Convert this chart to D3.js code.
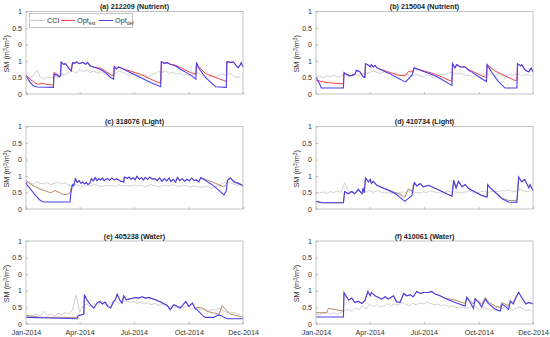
<!DOCTYPE html>
<html>
<head>
<meta charset="utf-8">
<script src="https://cdn.jsdelivr.net/npm/d3@7"></script>
<style>
  body { margin: 0; background: #fff; }
  text { font-family: "Liberation Sans", Arial, Helvetica, sans-serif; }
</style>
</head>
<body>
<div id="container"></div>
<script>
// tick labels
const yTicks = [0, 0.5, 1, 1.5, 2, 2.5];
const yTickLabels = ['0', '0.5', '1', '0', '0.5', '1'];
const xTicks = [0, 90, 181, 273, 364];
const xTickLabels = ['Jan-2014', 'Apr-2014', 'Jul-2014', 'Oct-2014', 'Dec-2014'];

const titles = ['(a) 212209 (Nutrient)', '(b) 215004 (Nutrient)', '(c) 318076 (Light)',
                '(d) 410734 (Light)', '(e) 405238 (Water)', '(f) 410061 (Water)'];

// CCI sampled every 6 days
const cciDays = [0,6,12,18,24,30,36,42,48,54,60,66,72,78,84,90,96,102,108,114,120,126,132,138,144,150,
  156,162,168,174,180,186,192,198,204,210,216,222,228,234,240,246,252,258,264,270,276,282,288,294,300,
  306,312,318,324,330,336,342,348,354,360];

const cciA = [0.5,0.45,0.55,0.72,0.5,0.45,0.52,0.48,0.55,0.5,0.6,0.58,0.65,0.7,0.62,0.75,0.68,0.72,0.65,0.7,
  0.62,0.68,0.6,0.65,0.58,0.62,0.7,0.65,0.6,0.55,0.62,0.58,0.55,0.6,0.52,0.58,0.62,0.68,0.65,0.7,0.62,0.66,
  0.6,0.64,0.58,0.6,0.55,0.6,0.65,0.58,0.55,0.5,0.56,0.52,0.58,0.6,0.56,0.62,0.55,0.5,0.52];
const cciB = [0.5,0.55,0.48,0.56,0.52,0.58,0.5,0.55,0.6,0.52,0.58,0.6,0.55,0.62,0.6,0.65,0.7,0.66,0.62,0.68,
  0.64,0.6,0.66,0.6,0.56,0.62,0.58,0.55,0.6,0.56,0.52,0.58,0.55,0.5,0.56,0.6,0.58,0.62,0.66,0.6,0.64,0.6,
  0.55,0.58,0.52,0.56,0.6,0.55,0.58,0.62,0.56,0.6,0.58,0.54,0.6,0.56,0.62,0.58,0.55,0.6,0.56];
const cciC = [0.78,0.8,0.75,0.82,0.78,0.76,0.8,0.74,0.78,0.82,0.76,0.8,0.72,0.7,0.74,0.7,0.68,0.72,0.7,0.74,
  0.72,0.68,0.7,0.72,0.7,0.68,0.74,0.7,0.72,0.69,0.73,0.7,0.72,0.68,0.7,0.74,0.71,0.68,0.7,0.72,0.69,0.74,
  0.7,0.68,0.72,0.7,0.66,0.7,0.68,0.65,0.7,0.66,0.62,0.68,0.72,0.78,0.82,0.8,0.76,0.72,0.74];
const cciD = [0.5,0.48,0.52,0.47,0.53,0.5,0.55,0.5,0.8,0.55,0.52,0.5,0.55,0.5,0.52,0.56,0.5,0.55,0.52,0.48,
  0.5,0.46,0.5,0.48,0.52,0.5,0.55,0.52,0.5,0.48,0.52,0.5,0.55,0.52,0.5,0.48,0.52,0.55,0.5,0.52,0.48,0.5,
  0.52,0.55,0.5,0.48,0.52,0.55,0.5,0.53,0.55,0.52,0.56,0.55,0.58,0.52,0.55,0.6,0.55,0.52,0.55];
const cciE = [0.25,0.22,0.28,0.3,0.25,0.38,0.26,0.3,0.24,0.32,0.28,0.35,0.3,0.42,0.88,0.35,0.55,0.6,0.5,0.62,
  0.55,0.68,0.6,0.58,0.65,0.7,0.62,0.66,0.7,0.65,0.68,0.62,0.66,0.6,0.64,0.58,0.62,0.56,0.6,0.55,0.5,0.56,
  0.48,0.52,0.5,0.55,0.48,0.45,0.5,0.42,0.46,0.4,0.44,0.42,0.48,0.4,0.36,0.32,0.35,0.3,0.28];
const cciF = [0.3,0.28,0.32,0.35,0.3,0.34,0.28,0.35,0.4,0.45,0.38,0.48,0.42,0.55,0.45,0.6,0.52,0.58,0.5,0.55,
  0.62,0.55,0.6,0.58,0.65,0.6,0.55,0.62,0.58,0.64,0.6,0.66,0.62,0.58,0.6,0.55,0.58,0.52,0.55,0.5,0.48,0.52,
  0.45,0.5,0.55,0.48,0.42,0.5,0.45,0.4,0.48,0.52,0.45,0.55,0.5,0.42,0.48,0.52,0.45,0.4,0.42];

// Opt_def / Opt_est as [day of year, SM]
const defA = [[0,0.55],[7,0.35],[12,0.25],[19,0.21],[46,0.2],[47,0.6],[51,0.58],[56,0.52],[58,0.55],[59,0.97],
  [63,0.9],[66,0.92],[69,0.85],[73,0.75],[76,0.7],[78,0.95],[81,0.93],[85,0.97],[90,0.92],[95,0.96],[100,0.9],
  [103,0.96],[108,0.85],[116,0.8],[125,0.75],[133,0.65],[142,0.5],[147,0.45],[148,0.82],[152,0.76],[155,0.82],
  [158,0.8],[167,0.72],[192,0.5],[209,0.35],[226,0.22],[227,0.98],[232,0.93],[237,0.95],[242,0.9],[251,0.85],
  [259,0.75],[276,0.58],[285,0.45],[286,0.95],[289,0.8],[301,0.5],[310,0.35],[318,0.22],[336,0.2],[337,0.98],
  [343,0.96],[348,0.97],[353,0.85],[356,0.8],[360,0.9],[361,0.95],[364,0.82]];
const estA = [[0,0.58],[7,0.45],[14,0.35],[19,0.3],[22,0.3],[27,0.33],[32,0.3],[40,0.28],[46,0.27],[47,0.65],
  [51,0.62],[56,0.55],[58,0.55],[59,0.97],[63,0.9],[66,0.92],[69,0.85],[73,0.75],[76,0.7],[78,0.95],[81,0.93],
  [85,0.97],[90,0.92],[95,0.96],[100,0.9],[103,0.96],[108,0.85],[116,0.8],[125,0.78],[133,0.7],[142,0.58],
  [147,0.55],[148,0.85],[152,0.78],[155,0.82],[158,0.8],[167,0.74],[192,0.6],[209,0.45],[226,0.32],[227,0.98],
  [232,0.93],[237,0.95],[242,0.9],[251,0.87],[259,0.8],[276,0.65],[285,0.6],[286,0.95],[289,0.85],[301,0.62],
  [318,0.5],[336,0.38],[337,0.98],[343,0.96],[348,0.97],[353,0.85],[356,0.8],[360,0.9],[361,0.95],[364,0.82]];

const defB = [[0,0.5],[5,0.35],[9,0.18],[46,0.18],[47,0.65],[51,0.6],[57,0.55],[65,0.59],[68,0.72],[74,0.67],
  [79,0.52],[82,0.5],[83,0.92],[88,0.87],[91,0.82],[93,0.89],[96,0.82],[99,0.87],[102,0.79],[121,0.64],
  [138,0.48],[147,0.39],[150,0.36],[155,0.46],[161,0.57],[165,0.8],[166,0.78],[200,0.55],[228,0.26],[229,0.92],
  [233,0.79],[236,0.89],[242,0.82],[250,0.82],[256,0.72],[261,0.67],[278,0.46],[286,0.38],[287,0.89],[295,0.65],
  [305,0.4],[317,0.18],[337,0.18],[338,0.92],[343,0.85],[345,0.89],[351,0.72],[357,0.67],[361,0.79],[364,0.67]];
const estB = [[0,0.41],[21,0.34],[46,0.31],[47,0.64],[51,0.6],[57,0.55],[65,0.59],[68,0.72],[74,0.67],[79,0.52],
  [82,0.5],[83,0.92],[88,0.87],[91,0.82],[93,0.89],[96,0.82],[99,0.87],[102,0.79],[121,0.67],[138,0.57],
  [150,0.55],[155,0.68],[161,0.67],[165,0.8],[166,0.78],[200,0.6],[228,0.38],[229,0.92],[233,0.79],[236,0.89],
  [242,0.82],[250,0.82],[256,0.74],[261,0.7],[278,0.55],[286,0.5],[287,0.89],[300,0.7],[317,0.55],[334,0.41],
  [337,0.41],[338,0.92],[343,0.85],[345,0.89],[351,0.72],[357,0.67],[361,0.79],[364,0.67]];

const defC = [[0,0.82],[2,0.72],[7,0.62],[16,0.41],[24,0.26],[30,0.21],[74,0.21],[75,0.45],[78,0.74],[80,0.7],
  [83,0.92],[86,0.8],[89,0.86],[92,0.78],[95,0.82],[98,0.76],[101,0.8],[104,0.74],[107,0.78],[110,0.92],
  [113,0.85],[116,0.95],[119,0.86],[122,0.92],[125,0.88],[128,0.94],[131,0.86],[134,0.9],[137,0.92],[140,0.87],
  [144,0.94],[148,0.88],[152,0.91],[158,0.85],[164,0.82],[165,0.97],[170,0.93],[173,0.97],[176,0.9],[180,0.95],
  [183,0.88],[186,0.99],[190,0.9],[194,0.95],[197,0.88],[200,0.96],[204,0.9],[208,0.97],[212,0.9],[216,0.92],
  [220,0.86],[224,0.94],[228,0.84],[232,0.92],[236,0.85],[240,0.94],[243,0.83],[247,0.9],[251,0.82],[254,0.96],
  [258,0.86],[262,0.92],[266,0.84],[270,0.9],[274,0.85],[278,0.94],[282,0.86],[286,0.88],[290,0.82],[293,0.95],
  [298,0.9],[315,0.7],[332,0.43],[336,0.55],[338,0.87],[343,0.94],[349,0.82],[360,0.74],[364,0.7]];
const estCHead = [[0,0.87],[8,0.75],[15,0.68],[24,0.6],[33,0.55],[41,0.49],[49,0.56],[56,0.5],[63,0.43],
  [71,0.46],[74,0.5],[76,0.67],[78,0.74],[80,0.7]];
const estCTail = [[298,0.92],[315,0.8],[332,0.67],[336,0.75],[340,0.92],[343,0.94],[349,0.84],[360,0.76],[364,0.72]];

const defD = [[0,0.23],[10,0.19],[46,0.19],[48,0.53],[54,0.46],[60,0.53],[65,0.46],[71,0.6],[77,0.46],[79,0.62],
  [81,0.5],[83,0.94],[88,0.82],[91,0.9],[93,0.77],[96,0.84],[102,0.72],[133,0.47],[149,0.23],[155,0.32],
  [161,0.41],[165,0.8],[169,0.7],[175,0.77],[180,0.67],[189,0.72],[228,0.39],[231,0.87],[235,0.63],[239,0.84],
  [245,0.67],[250,0.74],[256,0.62],[278,0.41],[287,0.36],[288,0.74],[292,0.64],[301,0.5],[312,0.31],[323,0.21],
  [337,0.2],[340,0.97],[345,0.82],[350,0.9],[357,0.64],[359,0.74],[364,0.56]];
const estDMid1 = [[102,0.72],[133,0.5],[144,0.42],[149,0.36],[155,0.61],[161,0.55],[165,0.8]];
const estDTail = [[301,0.5],[312,0.33],[323,0.26],[337,0.26],[340,0.97]];

const defE = [[0,0.2],[40,0.18],[86,0.16],[88,0.26],[94,0.28],[97,0.3],[98,0.88],[102,0.73],[108,0.58],
  [114,0.48],[119,0.63],[124,0.68],[128,0.6],[133,0.66],[137,0.53],[142,0.48],[147,0.68],[150,0.73],[153,0.9],
  [157,0.73],[161,0.63],[164,0.85],[168,0.73],[175,0.76],[184,0.8],[189,0.78],[195,0.82],[200,0.78],[206,0.8],
  [212,0.76],[217,0.73],[226,0.66],[237,0.56],[242,0.43],[248,0.58],[254,0.53],[259,0.48],[268,0.68],[273,0.53],
  [279,0.63],[284,0.46],[287,0.43],[296,0.26],[301,0.2],[315,0.2],[321,0.26],[326,0.26],[332,0.2],[338,0.16],
  [349,0.16],[364,0.16]];
const estEHead = [[0,0.26],[24,0.2],[86,0.2],[88,0.26]];
const estETail = [[287,0.5],[296,0.48],[304,0.38],[315,0.33],[324,0.3],[329,0.56],[335,0.43],[343,0.3],
  [352,0.26],[364,0.2]];

const defF = [[0,0.21],[46,0.21],[47,0.95],[51,0.82],[55,0.72],[60,0.78],[65,0.65],[71,0.68],[77,0.62],
  [82,0.7],[87,0.98],[91,0.85],[93,0.95],[99,0.85],[105,0.8],[110,0.75],[116,0.82],[121,0.75],[130,0.85],
  [135,0.67],[141,0.65],[147,0.92],[152,0.85],[158,0.88],[163,0.82],[169,0.98],[175,0.92],[180,0.95],[189,0.95],
  [194,0.98],[200,0.9],[208,0.85],[217,0.77],[233,0.65],[250,0.54],[253,0.8],[259,0.65],[264,0.47],[267,0.75],
  [273,0.65],[278,0.51],[284,0.75],[289,0.62],[301,0.44],[309,0.39],[312,0.6],[317,0.54],[323,0.44],[326,0.68],
  [331,0.6],[335,0.78],[340,0.95],[345,0.8],[352,0.6],[357,0.65],[362,0.62],[364,0.6]];
const estFHead = [[0,0.34],[18,0.34],[21,0.47],[46,0.39]];
const estFMid = [[217,0.77],[233,0.72],[250,0.62],[253,0.82],[259,0.7],[264,0.6],[267,0.78],[273,0.68],
  [278,0.6],[284,0.8],[289,0.66],[301,0.54],[309,0.5],[312,0.65],[317,0.6],[323,0.56],[326,0.72],[331,0.64],
  [335,0.8]];

// est follows def wherever they overlap in the picture
const between = (arr, a, b) => arr.filter(d => d[0] > a && d[0] < b);
const estC = [...estCHead, ...between(defC, 80, 298), ...estCTail];
const estD = [...between(defD, -1, 102), ...estDMid1, ...between(defD, 165, 301), ...estDTail, ...between(defD, 340, 365)];
const estE = [...estEHead, ...between(defE, 88, 287), ...estETail];
const estF = [...estFHead, ...between(defF, 46, 217), ...estFMid, ...between(defF, 335, 365)];

const cciList = [cciA, cciB, cciC, cciD, cciE, cciF];
const defList = [defA, defB, defC, defD, defE, defF];
const estList = [estA, estB, estC, estD, estE, estF];

const colors = {cci: '#cbcbcb', def: '#4b3ff0', estRed: '#f2444c', estBrown: '#b58a6c'};

const width = 550, height = 337;
const cols = [[26, 243], [316, 533]];
const rows = [[11.5, 94], [126.5, 209], [241, 324]];

const svg = d3.select('#container').append('svg')
  .attr('width', width).attr('height', height)
  .attr('viewBox', `0 0 ${width} ${height}`);
svg.append('rect').attr('width', width).attr('height', height).attr('fill', '#fff');

titles.forEach((title, i) => {
  const c = cols[i % 2], r = rows[Math.floor(i / 2)];
  const x = d3.scaleLinear().domain([0, 364]).range(c);
  const y = d3.scaleLinear().domain([0, 2.5]).range([r[1], r[0]]);
  const g = svg.append('g');

  const line = d3.line().x(d => x(d[0])).y(d => y(d[1]));

  g.append('path').datum(d3.zip(cciDays, cciList[i]))
    .attr('d', line).attr('fill', 'none')
    .attr('stroke', colors.cci).attr('stroke-width', 0.9);
  g.append('path').datum(estList[i])
    .attr('d', line).attr('fill', 'none')
    .attr('stroke', i < 2 ? colors.estRed : colors.estBrown).attr('stroke-width', 1);
  g.append('path').datum(defList[i])
    .attr('d', line).attr('fill', 'none')
    .attr('stroke', colors.def).attr('stroke-width', 1.1);

  // box
  g.append('rect')
    .attr('x', c[0]).attr('y', r[0])
    .attr('width', c[1] - c[0]).attr('height', r[1] - r[0])
    .attr('fill', 'none').attr('stroke', '#b5b5b5').attr('stroke-width', 0.8);

  const yAxis = d3.axisLeft(y).tickValues(yTicks)
    .tickFormat((d, k) => yTickLabels[k])
    .tickSizeInner(-2).tickSizeOuter(0).tickPadding(4);
  const ya = g.append('g').attr('transform', `translate(${c[0]},0)`).call(yAxis);

  const xAxis = d3.axisBottom(x).tickValues(xTicks)
    .tickFormat((d, k) => r === rows[2] ? xTickLabels[k] : '')
    .tickSizeInner(-2).tickSizeOuter(0).tickPadding(5.5);
  const xa = g.append('g').attr('transform', `translate(0,${r[1]})`).call(xAxis);

  [ya, xa].forEach(a => {
    a.select('.domain').remove();
    a.selectAll('line').attr('stroke', '#999').attr('stroke-width', 0.6);
    a.selectAll('text').style('font-size', '7.1px').attr('fill', '#333');
  });
  ya.selectAll('text').attr('dy', '0.3em');

  g.append('text')
    .attr('x', (c[0] + c[1]) / 2).attr('y', r[0] - 2.5)
    .attr('text-anchor', 'middle')
    .style('font-size', '7.2px').style('font-weight', 'bold').attr('fill', '#222')
    .text(title);

  const lab = g.append('text')
    .attr('transform', `translate(${c[0] - 17},${(r[0] + r[1]) / 2 + 1})rotate(-90)`)
    .attr('text-anchor', 'middle')
    .style('font-size', '7.3px').attr('fill', '#333');
  lab.append('tspan').text('SM (m');
  lab.append('tspan').attr('dy', -2.5).style('font-size', '5px').text('3');
  lab.append('tspan').attr('dy', 2.5).text('/m');
  lab.append('tspan').attr('dy', -2.5).style('font-size', '5px').text('3');
  lab.append('tspan').attr('dy', 2.5).text(')');

  // legend in the first panel only
  if (i === 0) {
    const lg = g.append('g');
    lg.append('rect').attr('x', 29.5).attr('y', 13.5).attr('width', 103).attr('height', 14)
      .attr('fill', '#fff').attr('stroke', '#b5b5b5').attr('stroke-width', 0.8);
    const items = [
      {x: 31, label: 'CCI', sub: '', color: colors.cci},
      {x: 61, label: 'Opt', sub: 'est', color: colors.estRed},
      {x: 99, label: 'Opt', sub: 'def', color: colors.def}
    ];
    items.forEach(it => {
      lg.append('line').attr('x1', it.x).attr('x2', it.x + 14).attr('y1', 20.5).attr('y2', 20.5)
        .attr('stroke', it.color).attr('stroke-width', 1);
      const t = lg.append('text').attr('x', it.x + 16).attr('y', 23)
        .style('font-size', '7.3px').attr('fill', '#333');
      t.append('tspan').text(it.label);
      if (it.sub) t.append('tspan').attr('dy', 2).style('font-size', '5px').text(it.sub);
    });
  }
});
</script>
</body>
</html>
